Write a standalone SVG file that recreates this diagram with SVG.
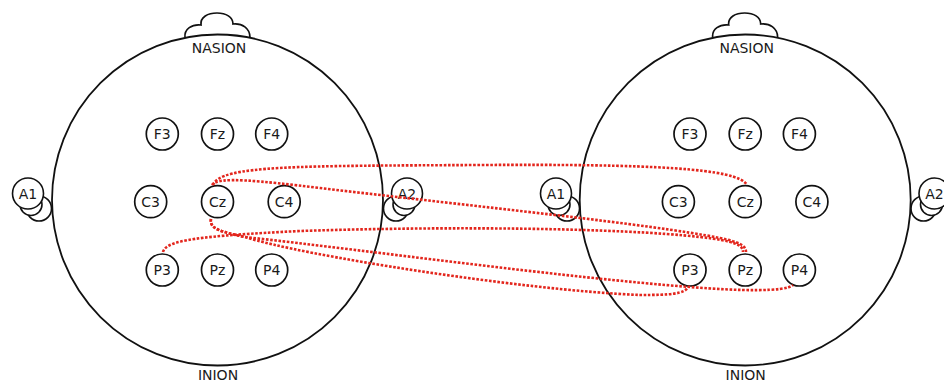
<svg xmlns="http://www.w3.org/2000/svg" width="944" height="384" viewBox="0 0 944 384">
  <style>
    .head { fill: none; stroke: #111; stroke-width: 1.8; }
    .nose { fill: none; stroke: #111; stroke-width: 1.7; }
    .el { fill: #fff; stroke: #111; stroke-width: 1.7; }
    .ear { fill: #fff; stroke: #111; stroke-width: 1.6; }
    .lbl { font-family: "DejaVu Sans", "Liberation Sans", sans-serif; font-size: 14px; fill: #1a1a1a; text-anchor: middle; }
    .conn { fill: none; stroke: #e3261d; stroke-width: 2.6; stroke-dasharray: 2.6 1.6; }
  </style>
  <defs>
    <path id="nose" class="nose" d="M-32.5,37.5 C-33.5,29 -25.5,24 -16.5,25 C-17.5,17 -9.5,13 -0.5,13 C8.5,13 15.5,17 15.5,24 C24.5,23 32.5,28 32.5,37.5"/>
    <g id="earR">
      <circle class="ear" cx="-11" cy="15" r="12.5"/>
      <circle class="ear" cx="-3" cy="11" r="11"/>
      <circle class="ear" cx="0" cy="0" r="15.5"/>
    </g>
    <g id="earL">
      <circle class="ear" cx="11" cy="15" r="12.5"/>
      <circle class="ear" cx="3" cy="11" r="11"/>
      <circle class="ear" cx="0" cy="0" r="15.5"/>
    </g>
  </defs>

  <!-- Left head -->
  <g id="head-left">
    <g id="head-left-A1"><use href="#earL" x="28" y="193.5"/><text class="lbl" x="28" y="198.5">A1</text></g>
    <g id="head-left-A2"><use href="#earR" x="407" y="193.5"/><text class="lbl" x="407" y="198.5">A2</text></g>
    <circle class="head" cx="217.5" cy="200" r="165.5"/>
    <use href="#nose" x="217.5" y="0"/>
    <text class="lbl" x="219" y="53">NASION</text>
    <text class="lbl" x="218" y="380">INION</text>
  </g>
  <g id="L-F3"><circle class="el" cx="162.3" cy="134" r="16"/><text class="lbl" x="162.3" y="139">F3</text></g>
  <g id="L-Fz"><circle class="el" cx="217.5" cy="134" r="16"/><text class="lbl" x="217.5" y="139">Fz</text></g>
  <g id="L-F4"><circle class="el" cx="271.7" cy="134" r="16"/><text class="lbl" x="271.7" y="139">F4</text></g>
  <g id="L-C3"><circle class="el" cx="150.7" cy="201.7" r="16"/><text class="lbl" x="150.7" y="206.7">C3</text></g>
  <g id="L-Cz"><circle class="el" cx="217.5" cy="201.7" r="16"/><text class="lbl" x="217.5" y="206.7">Cz</text></g>
  <g id="L-C4"><circle class="el" cx="284.2" cy="201.7" r="16"/><text class="lbl" x="284.2" y="206.7">C4</text></g>
  <g id="L-P3"><circle class="el" cx="162.3" cy="270" r="16"/><text class="lbl" x="162.3" y="275">P3</text></g>
  <g id="L-Pz"><circle class="el" cx="217.5" cy="270" r="16"/><text class="lbl" x="217.5" y="275">Pz</text></g>
  <g id="L-P4"><circle class="el" cx="271.7" cy="270" r="16"/><text class="lbl" x="271.7" y="275">P4</text></g>

  <!-- Right head -->
  <g id="head-right">
    <g id="head-right-A1"><use href="#earL" x="556" y="193.5"/><text class="lbl" x="556" y="198.5">A1</text></g>
    <g id="head-right-A2"><use href="#earR" x="934.5" y="193.5"/><text class="lbl" x="934.5" y="198.5">A2</text></g>
    <circle class="head" cx="745.2" cy="200" r="165.5"/>
    <use href="#nose" x="745.2" y="0"/>
    <text class="lbl" x="746.7" y="53">NASION</text>
    <text class="lbl" x="745.7" y="380">INION</text>
  </g>
  <g id="R-F3"><circle class="el" cx="690" cy="134" r="16"/><text class="lbl" x="690" y="139">F3</text></g>
  <g id="R-Fz"><circle class="el" cx="745.2" cy="134" r="16"/><text class="lbl" x="745.2" y="139">Fz</text></g>
  <g id="R-F4"><circle class="el" cx="799.4" cy="134" r="16"/><text class="lbl" x="799.4" y="139">F4</text></g>
  <g id="R-C3"><circle class="el" cx="678.4" cy="201.7" r="16"/><text class="lbl" x="678.4" y="206.7">C3</text></g>
  <g id="R-Cz"><circle class="el" cx="745.2" cy="201.7" r="16"/><text class="lbl" x="745.2" y="206.7">Cz</text></g>
  <g id="R-C4"><circle class="el" cx="811.9" cy="201.7" r="16"/><text class="lbl" x="811.9" y="206.7">C4</text></g>
  <g id="R-P3"><circle class="el" cx="690" cy="270" r="16"/><text class="lbl" x="690" y="275">P3</text></g>
  <g id="R-Pz"><circle class="el" cx="745.2" cy="270" r="16"/><text class="lbl" x="745.2" y="275">Pz</text></g>
  <g id="R-P4"><circle class="el" cx="799.4" cy="270" r="16"/><text class="lbl" x="799.4" y="275">P4</text></g>

  <!-- Connectors -->
  <g id="connectors">
    <path class="conn" d="M213,185 C220,165 300,166 480,165 C650,164 738,168 747,185"/>
    <path class="conn" d="M212,185 C218,176 260,181 320,188 C480,207 650,224 720,238 C740,242 746,246 746,252"/>
    <path class="conn" d="M163,252 C166,240 200,236 300,231 C450,226 620,228 700,237 C735,241 743,245 743,252"/>
    <path class="conn" d="M211,219 C209,229 222,232 245,237 C380,252 560,277 690,287 C740,291 785,292 793,285"/>
    <path class="conn" d="M211,219 C209,229 222,232 245,237 C300,255 520,290 640,295 C670,295 685,294 688,287"/>
  </g>
</svg>
